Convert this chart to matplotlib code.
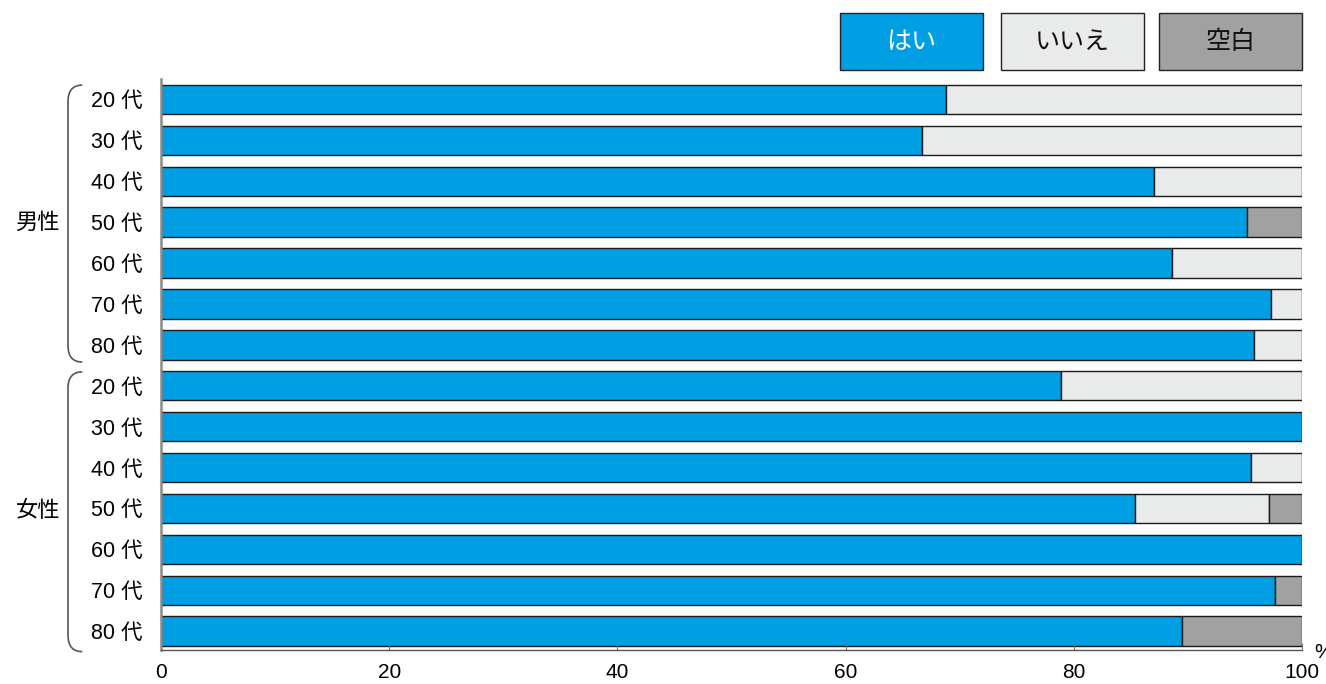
import numpy as np
import matplotlib.pyplot as plt
from matplotlib.patches import Rectangle
from matplotlib.path import Path
from matplotlib.patches import PathPatch
import matplotlib.transforms as mtransforms

plt.rcParams['font.family'] = ['Liberation Sans', 'Noto Sans CJK JP', 'DejaVu Sans']

# === Données ===
ages = ["20 代", "30 代", "40 代", "50 代", "60 代", "70 代", "80 代"]
groups = ["男性", "女性"]
series = ["はい", "いいえ", "空白"]

yes_men = [68.8, 66.7, 87.0, 95.2, 88.6, 97.3, 95.8]
no_men = [31.2, 33.3, 13.0, 0.0, 11.4, 2.7, 4.2]
blank_men = [0.0, 0.0, 0.0, 4.8, 0.0, 0.0, 0.0]

yes_women = [78.9, 100.0, 95.5, 85.4, 100.0, 97.6, 89.5]
no_women = [21.1, 0.0, 4.5, 11.7, 0.0, 0.0, 0.0]
blank_women = [0.0, 0.0, 0.0, 2.9, 0.0, 2.4, 10.5]

colors = ["#009FE3", "#E9EBEA", "#A0A1A0"]
text_colors = ["white", "#111111", "#111111"]

yes = np.array(yes_men + yes_women)
no = np.array(no_men + no_women)
blank = np.array(blank_men + blank_women)
labels = ages + ages
y = np.arange(len(labels))

fig = plt.figure(figsize=(13.26, 6.84), dpi=100)
W, H = 1326, 684
ax = fig.add_axes([161 / W, 1 - 650 / H, (1302 - 161) / W, (650 - 79) / H])

left = np.zeros(len(y))
for vals, c in zip([yes, no, blank], colors):
    mask = vals > 0
    ax.barh(y[mask], vals[mask], left=left[mask], height=0.72, color=c,
            edgecolor="#1a1a1a", linewidth=1.0)
    left = left + vals

ax.set_xlim(0, 100)
ax.set_ylim(13.46, -0.5)
ax.set_xticks([0, 20, 40, 60, 80, 100])
ax.tick_params(axis="x", direction="in", length=5, color="#777777", labelsize=15, pad=9)
ax.set_yticks(y)
ax.set_yticklabels(labels, fontsize=15.5)
ax.tick_params(axis="y", length=0, pad=13)
for s in ["top", "right"]:
    ax.spines[s].set_visible(False)
ax.spines["left"].set_color("#8a8a8a")
ax.spines["left"].set_linewidth(1.8)
ax.spines["bottom"].set_color("#555555")
ax.spines["bottom"].set_linewidth(1.0)

# le "%" est coupé au bord droit, comme dans l'original
fig.text(1314 / W, 1 - 652 / H, "%", fontsize=15, ha="left", va="center")

# === Accolades des groupes ===
trans = mtransforms.blended_transform_factory(ax.transAxes, ax.transData)
x0, x1 = -0.0815, -0.069
for (top, bot), g in zip([(-0.35, 6.42), (6.66, 13.5)], groups):
    r = 0.4
    verts = [(x1, top), (x0, top), (x0, top + r), (x0, bot - r), (x0, bot), (x1, bot)]
    codes = [Path.MOVETO, Path.CURVE3, Path.CURVE3, Path.LINETO, Path.CURVE3, Path.CURVE3]
    ax.add_patch(PathPatch(Path(verts, codes), transform=trans, fill=False,
                           edgecolor="#555555", linewidth=1.2, clip_on=False))
    ax.text(-0.108, (top + bot) / 2, g, transform=trans, fontsize=16,
            ha="center", va="center")

# === Légende ===
boxes = [(840, 983), (1001, 1144), (1159, 1302)]
for (bx0, bx1), name, c, tc in zip(boxes, series, colors, text_colors):
    fig.patches.append(Rectangle((bx0 / W, 1 - 70 / H), (bx1 - bx0) / W, 57 / H,
                                 transform=fig.transFigure, facecolor=c,
                                 edgecolor="#222222", linewidth=1.0))
    fig.text((bx0 + bx1) / 2 / W, 1 - 42 / H, name, color=tc, fontsize=18,
             ha="center", va="center")

fig.savefig("out.png", dpi=100)
